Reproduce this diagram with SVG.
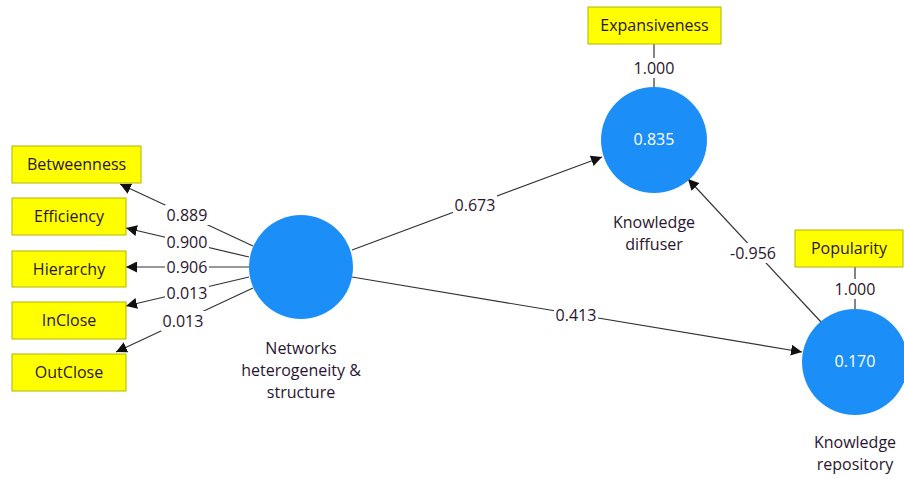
<svg xmlns="http://www.w3.org/2000/svg" width="904" height="479" viewBox="0 0 904 479">
<style>
.box{fill:#ffff00;stroke:#b4b400;stroke-width:1}
.lv{fill:#1b8ff7}
.t{font-family:"Open Sans","Noto Sans",sans-serif;font-size:16px;fill:#2a1530;text-anchor:middle}
.w{font-family:"Open Sans","Noto Sans",sans-serif;font-size:16px;fill:#ffffff;text-anchor:middle}
.bg{fill:#ffffff}
.c{stroke:#333;stroke-width:1.2;fill:none}
</style>
<defs>
<marker id="ah" viewBox="0 0 10 10" refX="10" refY="5" markerWidth="11" markerHeight="11" markerUnits="userSpaceOnUse" orient="auto">
<path d="M0,0 L10,5 L0,10 z" fill="#111"/>
</marker>
</defs>
<g id="connectors">
<line class="c" x1="253" y1="246" x2="120" y2="184" marker-end="url(#ah)"/>
<line class="c" x1="249" y1="257" x2="126" y2="228" marker-end="url(#ah)"/>
<line class="c" x1="249" y1="267" x2="126" y2="267" marker-end="url(#ah)"/>
<line class="c" x1="249" y1="277" x2="126" y2="306" marker-end="url(#ah)"/>
<line class="c" x1="253" y1="288" x2="116" y2="352" marker-end="url(#ah)"/>
<line class="c" x1="352" y1="250" x2="602" y2="157" marker-end="url(#ah)"/>
<line class="c" x1="352" y1="277" x2="802" y2="352" marker-end="url(#ah)"/>
<line class="c" x1="821" y1="322" x2="688" y2="179" marker-end="url(#ah)"/>
<line class="c" x1="654" y1="44" x2="654" y2="87"/>
<line class="c" x1="855" y1="267" x2="855" y2="309"/>
<rect class="bg" x="165" y="205" width="44" height="20"/><text class="t" x="187" y="221">0.889</text>
<rect class="bg" x="165" y="232" width="44" height="20"/><text class="t" x="187" y="248">0.900</text>
<rect class="bg" x="165" y="257" width="44" height="20"/><text class="t" x="187" y="273">0.906</text>
<rect class="bg" x="165" y="283" width="44" height="20"/><text class="t" x="187" y="299">0.013</text>
<rect class="bg" x="161" y="311" width="44" height="20"/><text class="t" x="183" y="327">0.013</text>
<rect class="bg" x="453" y="195" width="44" height="20"/><text class="t" x="475" y="211">0.673</text>
<rect class="bg" x="554" y="305" width="44" height="20"/><text class="t" x="576" y="321">0.413</text>
<rect class="bg" x="728" y="243" width="50" height="20"/><text class="t" x="753" y="259">-0.956</text>
<rect class="bg" x="632" y="58" width="44" height="20"/><text class="t" x="654" y="74">1.000</text>
<rect class="bg" x="833" y="279" width="44" height="20"/><text class="t" x="855" y="295">1.000</text>
</g>
<g id="betweenness"><rect class="box" x="12" y="146" width="129" height="37"/><text class="t" x="76.5" y="170">Betweenness</text></g>
<g id="efficiency"><rect class="box" x="12" y="198" width="114" height="37"/><text class="t" x="69" y="222">Efficiency</text></g>
<g id="hierarchy"><rect class="box" x="12" y="251" width="114" height="36"/><text class="t" x="69" y="275">Hierarchy</text></g>
<g id="inclose"><rect class="box" x="12" y="302" width="114" height="37"/><text class="t" x="69" y="326">InClose</text></g>
<g id="outclose"><rect class="box" x="12" y="354" width="114" height="37"/><text class="t" x="69" y="378">OutClose</text></g>
<g id="expansiveness"><rect class="box" x="588" y="7" width="133" height="37"/><text class="t" x="654.5" y="31">Expansiveness</text></g>
<g id="popularity"><rect class="box" x="795" y="230" width="108" height="37"/><text class="t" x="849" y="254">Popularity</text></g>
<g id="networks"><circle class="lv" cx="301" cy="267" r="52"/><text class="t" x="301" y="354">Networks</text><text class="t" x="301" y="376">heterogeneity &amp;</text><text class="t" x="301" y="398">structure</text></g>
<g id="diffuser"><circle class="lv" cx="654" cy="140" r="53"/><text class="w" x="654" y="145">0.835</text><text class="t" x="654" y="228">Knowledge</text><text class="t" x="654" y="250">diffuser</text></g>
<g id="repository"><circle class="lv" cx="855" cy="362" r="53"/><text class="w" x="855" y="367">0.170</text><text class="t" x="855" y="448">Knowledge</text><text class="t" x="855" y="470">repository</text></g>
</svg>
